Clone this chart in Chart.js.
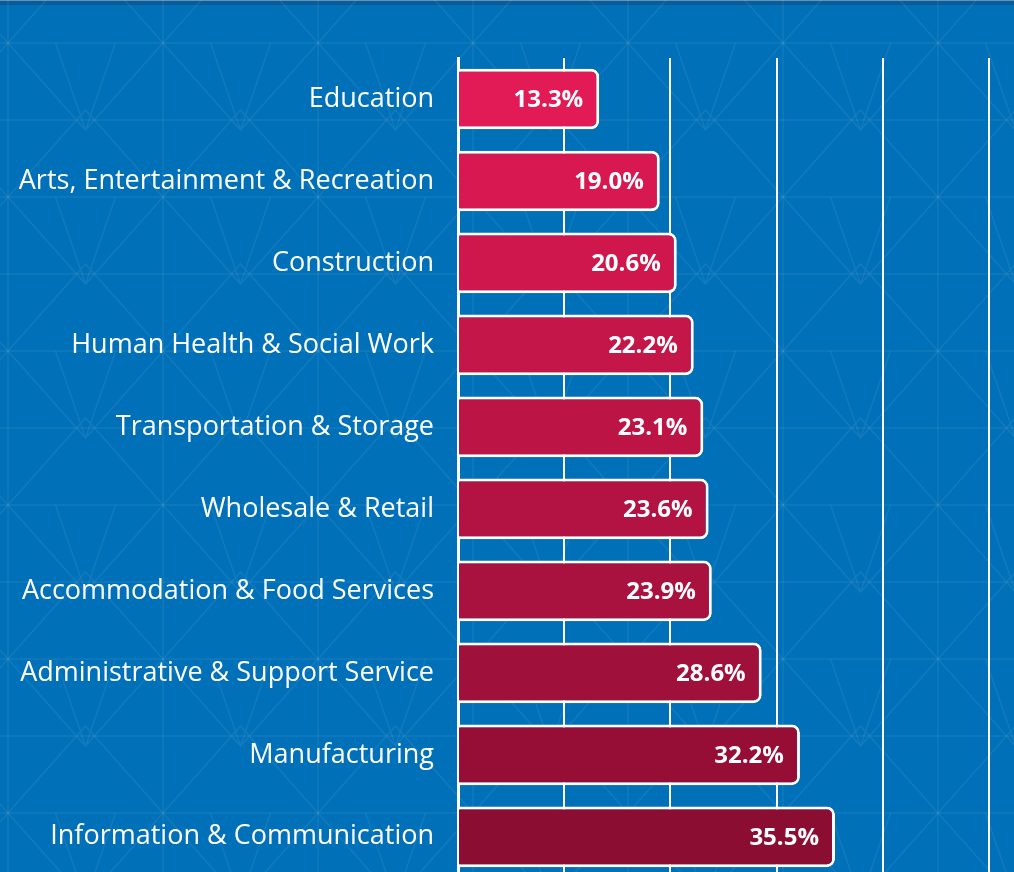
<!DOCTYPE html>
<html>
<head>
<meta charset="utf-8">
<script src="https://cdn.jsdelivr.net/npm/chart.js@4.4.0/dist/chart.umd.min.js"></script>
<style>
    html, body { margin: 0; padding: 0; background: #0070b8; overflow: hidden; }
    #wrap { position: relative; width: 1014px; height: 918px; }
</style>
</head>
<body>
<div id="wrap"><canvas id="chart"></canvas></div>
<script>
// Sector data
const sectors = [
    'Education',
    'Arts, Entertainment & Recreation',
    'Construction',
    'Human Health & Social Work',
    'Transportation & Storage',
    'Wholesale & Retail',
    'Accommodation & Food Services',
    'Administrative & Support Service',
    'Manufacturing',
    'Information & Communication'
];
const shares = [13.3, 19.0, 20.6, 22.2, 23.1, 23.6, 23.9, 28.6, 32.2, 35.5];
const axisTicks = [0, 10, 20, 30, 40, 50];

// Bar colours fade from bright pink-red to dark crimson
const mix = (a, b, t) => Math.round(a + (b - a) * t);
const barColors = shares.map((_, i) => {
    const t = i / (shares.length - 1);
    return `rgb(${mix(226, 140, t)}, ${mix(26, 13, t)}, ${mix(85, 50, t)})`;
});

// Background: blue fill, dark top strip and faint star lattice
const backdrop = {
    id: 'backdrop',
    beforeDraw(chart) {
        const { ctx, width, height } = chart;
        ctx.save();
        ctx.fillStyle = '#0070b8';
        ctx.fillRect(0, 0, width, height);
        ctx.fillStyle = '#0a5c98';
        ctx.fillRect(0, 0, width, 5);
        ctx.fillStyle = 'rgba(255,255,255,0.35)';
        ctx.fillRect(0, 0, width, 1);

        ctx.strokeStyle = 'rgba(255,255,255,0.07)';
        ctx.lineWidth = 1.5;
        const dx = 155, dy = 154;
        for (let y = 43 - dy; y < height + dy; y += dy / 2) {
            ctx.beginPath(); ctx.moveTo(0, y); ctx.lineTo(width, y); ctx.stroke();
        }
        for (let x = 8; x < width + dx; x += dx) {
            ctx.beginPath(); ctx.moveTo(x, 0); ctx.lineTo(x, height); ctx.stroke();
        }
        for (let x = 8 - dx * 2; x < width + dx; x += dx) {
            for (let y = 43 - dy; y < height + dy; y += dy) {
                ctx.beginPath();
                ctx.moveTo(x, y); ctx.lineTo(x + dx / 2, y + dy / 2 + 10); ctx.lineTo(x + dx, y);
                ctx.moveTo(x, y + dy); ctx.lineTo(x + dx / 2, y + dy / 2 - 10); ctx.lineTo(x + dx, y + dy);
                ctx.moveTo(x + dx / 2 - 30, y); ctx.lineTo(x + dx / 2, y + dy / 2 + 10);
                ctx.moveTo(x + dx / 2 + 30, y); ctx.lineTo(x + dx / 2, y + dy / 2 + 10);
                ctx.stroke();
            }
        }
        ctx.restore();
    }
};

// Percent labels inside the end of each bar
const valueLabels = {
    id: 'valueLabels',
    afterDatasetsDraw(chart) {
        const { ctx } = chart;
        const meta = chart.getDatasetMeta(0);
        ctx.save();
        ctx.font = 'bold 24px "Open Sans", Lato, sans-serif';
        ctx.fillStyle = '#ffffff';
        ctx.textAlign = 'right';
        ctx.textBaseline = 'middle';
        meta.data.forEach((bar, i) => {
            ctx.fillText(shares[i].toFixed(1) + '%', bar.x - 16, bar.y + 1);
        });
        ctx.restore();
    }
};

new Chart(document.getElementById('chart'), {
    type: 'bar',
    data: {
        labels: sectors,
        datasets: [{
            data: shares,
            backgroundColor: barColors,
            borderColor: '#ffffff',
            borderWidth: 3,
            borderRadius: 8,
            borderSkipped: 'start',
            barPercentage: 0.74,
            categoryPercentage: 1
        }]
    },
    options: {
        indexAxis: 'y',
        responsive: true,
        maintainAspectRatio: false,
        animation: false,
        layout: { padding: { top: 58, right: 25, bottom: 0, left: 0 } },
        plugins: {
            legend: { display: false },
            tooltip: { enabled: false }
        },
        scales: {
            x: {
                min: 0,
                max: 50,
                afterBuildTicks: (axis) => { axis.ticks = axisTicks.map(v => ({ value: v })); },
                grid: { color: '#ffffff', lineWidth: 2, drawTicks: false },
                border: { display: false },
                ticks: { display: false }
            },
            y: {
                afterFit: (axis) => { axis.width = 458; },
                grid: { display: false, drawTicks: false },
                border: { color: '#ffffff', width: 3 },
                ticks: {
                    color: '#ffffff',
                    padding: 24,
                    font: { family: '"Open Sans", Lato, sans-serif', size: 27 }
                }
            }
        }
    },
    plugins: [backdrop, valueLabels]
});
</script>
</body>
</html>
